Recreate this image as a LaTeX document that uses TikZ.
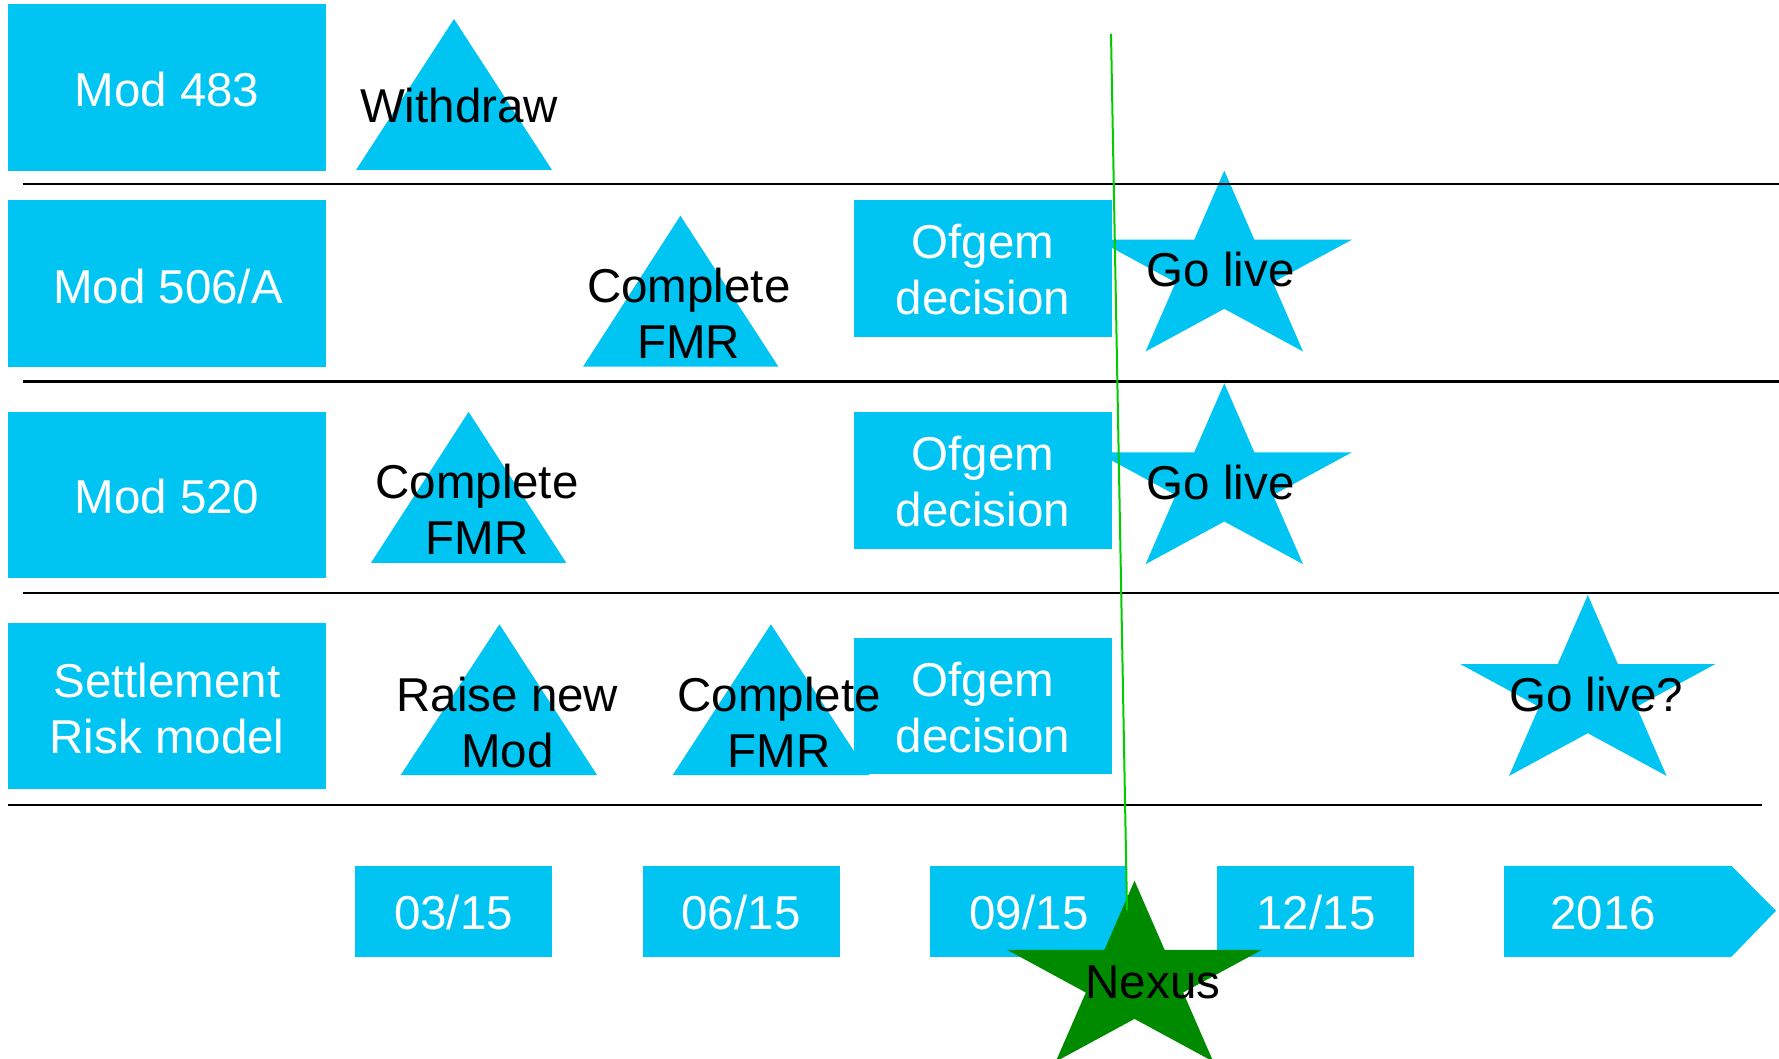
\documentclass[tikz,border=0pt]{standalone}
\usepackage{fontspec}
\setmainfont{Liberation Sans}
\definecolor{cy}{RGB}{0,197,243}
\definecolor{nx}{RGB}{0,138,0}
\definecolor{gl}{RGB}{0,204,0}
\newcommand\fsz{\fontsize{47.5}{56}\selectfont}
\tikzset{
  box/.style={fill=cy, inner sep=0pt, outer sep=0pt, anchor=north west},
  wt/.style={text=white, inner sep=0pt, outer sep=0pt, anchor=base, font=\fsz},
  bt/.style={text=black, inner sep=0pt, outer sep=0pt, anchor=base, font=\fsz},
  rowrule/.style={line width=2.2pt, black},
  nexusline/.style={line width=2pt, gl},
  star5/.pic={\path[pic actions, xscale=1.34, yscale=-1]
     (90:100) -- (126:38.2) -- (162:100) -- (198:38.2) -- (234:100) --
     (270:38.2) -- (306:100) -- (342:38.2) -- (18:100) -- (54:38.2) -- cycle;},
}
\begin{document}
\begin{tikzpicture}[x=1pt, y=-1pt]
\useasboundingbox (0,0) rectangle (1779,1059);

% row labels
\node[box, minimum width=318pt, minimum height=167pt] (m483) at (8,4) {};
\node[box, minimum width=318pt, minimum height=166pt] (m506) at (8,200.5) {};
\node[box, minimum width=318pt, minimum height=166.5pt] (m520) at (8,411.8) {};
\node[box, minimum width=318pt, minimum height=166.5pt] (srm) at (8,622.7) {};

% triangles
\fill[cy] (454,19) -- (552,170) -- (356,170) -- cycle;
\fill[cy] (680.4,215.7) -- (778.4,366.7) -- (583,366.7) -- cycle;
\fill[cy] (468.6,411.9) -- (566.2,562.8) -- (371,562.8) -- cycle;
\fill[cy] (499.4,624.3) -- (597,775) -- (400.7,775) -- cycle;
\fill[cy] (770.9,624.3) -- (869.6,775) -- (672.7,775) -- cycle;

% stars
\pic[fill=cy] at (1224.3,270.6) {star5};
\pic[fill=cy] at (1224.3,483.3) {star5};
\pic[fill=cy] at (1587.8,695) {star5};

% Ofgem boxes
\node[box, minimum width=258pt, minimum height=136.7pt] (of2) at (854,200) {};
\node[box, minimum width=258pt, minimum height=136.7pt] (of3) at (854,412) {};
\node[box, minimum width=258pt, minimum height=136.2pt] (of4) at (854,637.6) {};

% timeline
\node[box, minimum width=196.5pt, minimum height=91pt] (d03) at (355,865.8) {};
\node[box, minimum width=196.5pt, minimum height=91pt] (d06) at (643,865.8) {};
\node[box, minimum width=195.5pt, minimum height=91pt] (d09) at (930,865.8) {};
\node[box, minimum width=197pt, minimum height=91pt] (d12) at (1217,865.8) {};
\fill[cy] (1504,865.8) -- (1731.4,865.8) -- (1776,910.7) -- (1731.4,956.8) -- (1504,956.8) -- cycle;

% texts
\node[wt] (tm483) at (167,106.7) {Mod 483};
\node[wt] (tm506) at (168,303.3) {Mod 506/A};
\node[wt] (tm520) at (167,513.3) {Mod 520};
\node[wt] (tsrm1) at (167,697.3) {Settlement};
\node[wt] (tsrm2) at (167,753.3) {Risk model};

\node[bt] (tw) at (459,122.7) {Withdraw};
\node[bt] (tc2a) at (688.8,302.3) {Complete};
\node[bt] (tc2b) at (688.8,358.3) {FMR};
\node[bt] (tc3a) at (477,498.5) {Complete};
\node[bt] (tc3b) at (477,554.5) {FMR};
\node[bt] (tr4a) at (507.4,711.7) {Raise new};
\node[bt] (tr4b) at (507.4,767.7) {Mod};
\node[bt] (tc4a) at (779,711.7) {Complete};
\node[bt] (tc4b) at (779,767.7) {FMR};

\node[wt] (to2a) at (983,258.3) {Ofgem};
\node[wt] (to2b) at (983,314.3) {decision};
\node[wt] (to3a) at (983,470.5) {Ofgem};
\node[wt] (to3b) at (983,526.5) {decision};
\node[wt] (to4a) at (983,696) {Ofgem};
\node[wt] (to4b) at (983,752) {decision};

\node[bt] (tg2) at (1220.7,286.7) {Go live};
\node[bt] (tg3) at (1220.7,499.2) {Go live};
\node[bt] (tg4) at (1596.3,711.7) {Go live?};

\node[wt] (td03) at (453.5,929.3) {03/15};
\node[wt] (td06) at (741,929.3) {06/15};
\node[wt] (td09) at (1029,929.3) {09/15};
\node[wt] (td12) at (1316,929.3) {12/15};
\node[wt] (td16) at (1603,929.3) {2016};

% Nexus
\pic[fill=nx] at (1134.5,980.7) {star5};
\node[bt] (tnx) at (1153,998.3) {Nexus};

% row rules
\draw[rowrule] (22.7,184.3) -- (1779,184.3);
\draw[rowrule] (22.7,381.5) -- (1779,381.5);
\draw[rowrule] (22.7,593.3) -- (1779,593.3);
\draw[rowrule] (8,805.3) -- (1761.7,805.3);

% Nexus line
\coordinate (nltop) at (1111,34);
\coordinate (nlbot) at (1127,910);
\draw[nexusline] (nltop) -- (nlbot);
\end{tikzpicture}
\end{document}
